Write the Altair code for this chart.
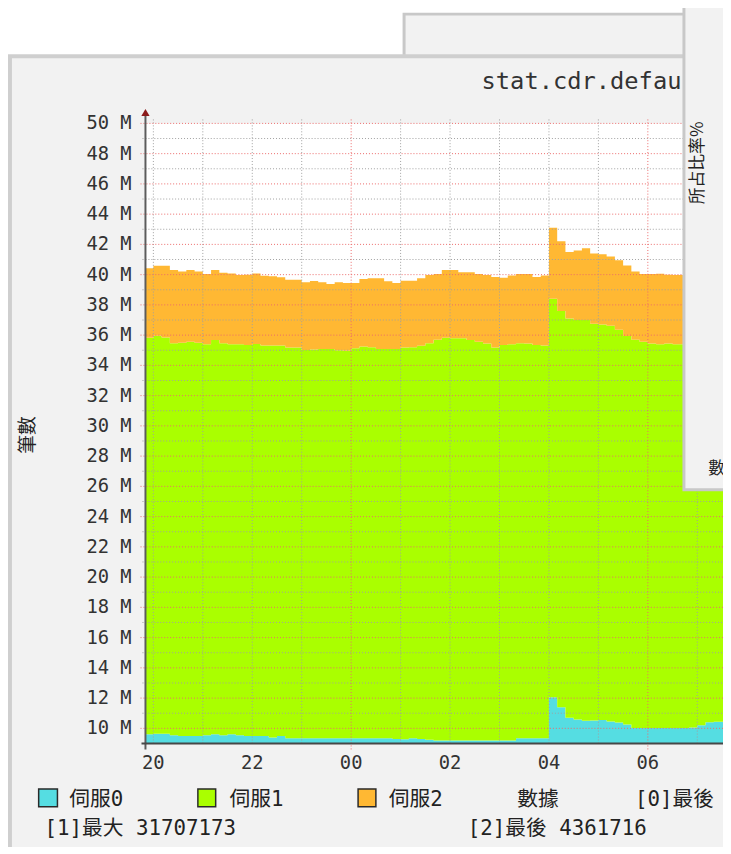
import altair as alt
import pandas as pd

# ---------------- data ----------------
# time slots in minutes relative to 20:00 (19:50 ... 07:40), 10-minute steps
slot_minutes = list(range(-10, 701, 10))

series_names = ["伺服0", "伺服1", "伺服2"]
series_colors = ["#55dde2", "#aaff00", "#ffb833"]

# per-series values, millions
srv0 = [9.61, 9.65, 9.65, 9.55, 9.50, 9.50, 9.50, 9.55, 9.61, 9.55, 9.61, 9.55,
        9.50, 9.50, 9.50, 9.40, 9.50, 9.35, 9.35, 9.35, 9.35, 9.35, 9.35, 9.35,
        9.35, 9.35, 9.35, 9.35, 9.35, 9.35, 9.30, 9.28, 9.35, 9.30, 9.24, 9.20,
        9.20, 9.20, 9.20, 9.20, 9.20, 9.20, 9.20, 9.20, 9.20, 9.35, 9.35, 9.35,
        9.35, 12.05, 11.40, 10.70, 10.59, 10.50, 10.52, 10.55, 10.46, 10.38, 10.25, 10.02,
        10.02, 10.02, 10.02, 10.02, 10.02, 10.02, 10.05, 10.20, 10.40, 10.44, 10.44, 10.44]
srv1 = [26.22, 26.31, 26.20, 25.91, 26.00, 26.07, 26.00, 25.84, 26.07, 25.91, 25.78, 25.84,
        25.85, 25.92, 25.81, 25.91, 25.81, 25.83, 25.83, 25.67, 25.70, 25.74, 25.74, 25.65,
        25.61, 25.78, 25.89, 25.85, 25.74, 25.74, 25.79, 25.90, 25.85, 25.99, 26.22, 26.50,
        26.63, 26.59, 26.59, 26.48, 26.37, 26.25, 25.98, 26.15, 26.20, 26.11, 26.10, 26.00,
        25.96, 26.35, 26.20, 26.40, 26.41, 26.50, 26.23, 26.15, 26.16, 25.97, 25.70, 25.68,
        25.55, 25.43, 25.37, 25.43, 25.37, 25.37, 25.35, 25.20, 25.05, 25.01, 25.01, 25.01]
srv2 = [4.60, 4.63, 4.74, 4.84, 4.70, 4.73, 4.70, 4.66, 4.62, 4.66, 4.68, 4.58,
        4.65, 4.65, 4.62, 4.59, 4.51, 4.49, 4.49, 4.48, 4.53, 4.41, 4.29, 4.50,
        4.49, 4.32, 4.47, 4.56, 4.67, 4.47, 4.36, 4.42, 4.40, 4.47, 4.51, 4.35,
        4.47, 4.51, 4.36, 4.47, 4.48, 4.52, 4.67, 4.45, 4.55, 4.58, 4.59, 4.50,
        4.64, 4.70, 4.60, 4.40, 4.60, 4.75, 4.65, 4.65, 4.58, 4.60, 4.65, 4.50,
        4.47, 4.59, 4.67, 4.55, 4.58, 4.58, 4.57, 4.60, 4.55, 4.60, 4.60, 4.36]

y_major_m = [10, 12, 14, 16, 18, 20, 22, 24, 26, 28, 30, 32, 34, 36, 38, 40, 42, 44, 46, 48, 50]
y_minor_m = [11, 13, 15, 17, 19, 21, 23, 25, 27, 29, 31, 33, 35, 37, 39, 41, 43, 45, 47, 49]
x_label_hours = [0, 2, 4, 6, 8, 10]
x_labels = ["20", "22", "00", "02", "04", "06"]
v_minor_hours = [0, 1, 2, 3, 5, 6, 7, 8, 9, 11]
v_major_hours = [4, 10]                       # 00 and 06

title_text = "stat.cdr.defau"
y_title = "筆數"
legend_extra = "數據"
stat_texts = ["[0]最後", "[1]最大 31707173", "[2]最後 4361716"]
popup_title = "所占比率%"
popup_text = "數據"

# ---------------- build ----------------
W, H = 584, 627
MONO = "DejaVu Sans Mono"
MIXED = "DejaVu Sans Mono, Noto Sans CJK TC"
CJK = "Noto Sans CJK TC"

rows = []
for i, (name, vals) in enumerate(zip(series_names, [srv0, srv1, srv2])):
    for m, v in zip(slot_minutes, vals):
        rows.append({"t": m / 60.0, "series": name, "idx": i, "v": v * 1e6})
long = pd.DataFrame(rows)

xs = alt.Scale(domain=[-0.16, 11.52], nice=False, zero=False)
ys = alt.Scale(domain=[9e6, 50e6], nice=False, zero=False)

one = pd.DataFrame({"k": [0]})


def deco_rect(x, x2, y, y2, fill, stroke=None, sw=0):
    kw = dict(fill=fill)
    if stroke is not None:
        kw.update(stroke=stroke, strokeWidth=sw)
    return alt.Chart(one).mark_rect(**kw).encode(
        x=alt.value(x), x2=alt.value(x2), y=alt.value(y), y2=alt.value(y2))


def label(text, x, y, size, align="left", angle=0, font=MIXED, color="#222", baseline="middle"):
    return alt.Chart(one).mark_text(
        align=align, baseline=baseline, font=font, fontSize=size, color=color, angle=angle
    ).encode(x=alt.value(x), y=alt.value(y), text=alt.value(text))


def line(x, x2, y, y2, color, sw):
    return alt.Chart(one).mark_rule(color=color, strokeWidth=sw).encode(
        x=alt.value(x), x2=alt.value(x2), y=alt.value(y), y2=alt.value(y2))


areas = alt.Chart(long).mark_area(interpolate="step-after", clip=True).encode(
    x=alt.X("t:Q", scale=xs, axis=None),
    y=alt.Y("v:Q", scale=ys, stack="zero", axis=None),
    color=alt.Color("series:N", scale=alt.Scale(domain=series_names, range=series_colors), legend=None),
    order=alt.Order("idx:Q", sort="ascending"),
)

h_minor = alt.Chart(pd.DataFrame({"v": [v * 1e6 for v in y_minor_m]})).mark_rule(
    color="#a0a0a0", strokeDash=[1, 2], strokeWidth=1).encode(
    y=alt.Y("v:Q", scale=ys, axis=None), x=alt.value(-3), x2=alt.value(W))
h_major = alt.Chart(pd.DataFrame({"v": [v * 1e6 for v in y_major_m]})).mark_rule(
    color="#ec6a6a", strokeDash=[1, 2], strokeWidth=1).encode(
    y=alt.Y("v:Q", scale=ys, axis=None), x=alt.value(-5), x2=alt.value(W))
v_minor = alt.Chart(pd.DataFrame({"h": v_minor_hours})).mark_rule(
    color="#a0a0a0", strokeDash=[1, 2], strokeWidth=1).encode(
    x=alt.X("h:Q", scale=xs, axis=None), y=alt.value(-4), y2=alt.value(H))
v_major = alt.Chart(pd.DataFrame({"h": v_major_hours})).mark_rule(
    color="#ec6a6a", strokeDash=[1, 2], strokeWidth=1).encode(
    x=alt.X("h:Q", scale=xs, axis=None), y=alt.value(-4), y2=alt.value(H + 6))

y_tick_labels = alt.Chart(pd.DataFrame({
    "v": [v * 1e6 for v in y_major_m],
    "lab": [f"{v} M" for v in y_major_m]})).mark_text(
    align="right", baseline="middle", font=MONO, fontSize=19, color="#333").encode(
    y=alt.Y("v:Q", scale=ys, axis=None), x=alt.value(-14), text="lab:N")
x_tick_labels = alt.Chart(pd.DataFrame({"h": x_label_hours, "lab": x_labels})).mark_text(
    align="center", baseline="top", font=MONO, fontSize=19, color="#333").encode(
    x=alt.X("h:Q", scale=xs, axis=None), y=alt.value(H + 11), text="lab:N")

arrow = alt.Chart(one).mark_point(shape="triangle-up", filled=True, size=70,
                                  color="#8b1a1a", opacity=1).encode(
    x=alt.value(0), y=alt.value(-11))

layers = [
    deco_rect(261.5, 700, -110.5, -60, "#f2f2f2", "#c8c8c8", 3),   # back window
    deco_rect(-137, 700, -68, 800, "#f2f2f2", "#cfcfcf", 4),       # main panel
    deco_rect(0, W + 20, 0, H, "#ffffff"),                         # plot area
    areas,
    v_minor, h_minor, h_major, v_major,
    line(0, 0, -8, H + 6, "#5c5c5c", 2),                           # y axis line
    line(-4, W, H, H, "#474747", 2),                               # x axis line
    arrow,
    y_tick_labels, x_tick_labels,
    label(y_title, -119, 315, 19, align="center", angle=270, font=CJK),
    label(title_text, 542, -35, 24, align="right", font=MONO, color="#333", baseline="alphabetic"),
    # legend
    deco_rect(-108, -89, 673, 691, series_colors[0], "#2a2a2a", 1.5),
    deco_rect(53, 71, 673, 691, series_colors[1], "#2a2a2a", 1.5),
    deco_rect(215, 233, 673, 691, series_colors[2], "#2a2a2a", 1.5),
    label(series_names[0], -77, 684, 21),
    label(series_names[1], 85, 684, 21),
    label(series_names[2], 246, 684, 21),
    label(legend_extra, 376, 684, 21),
    label(stat_texts[0], 495, 684, 21),
    label(stat_texts[1], -102, 714, 21),
    label(stat_texts[2], 326, 714, 21),
    # popup window on the right
    deco_rect(544.5, 700, -200, 370.5, "#f2f2f2", "#c8c8c8", 3),
    label(popup_title, 559, 40, 17, align="center", angle=270, font=CJK),
    label(popup_text, 569, 350, 17, font=CJK),
]

chart = alt.layer(*layers).properties(
    width=W, height=H,
    autosize=alt.AutoSizeParams(type="none"),
    padding={"left": 139, "top": 112, "right": 0, "bottom": 100},
).configure(background="white").configure_view(stroke=None)

chart.save("out.html", embed_options={"renderer": "svg", "actions": False})
